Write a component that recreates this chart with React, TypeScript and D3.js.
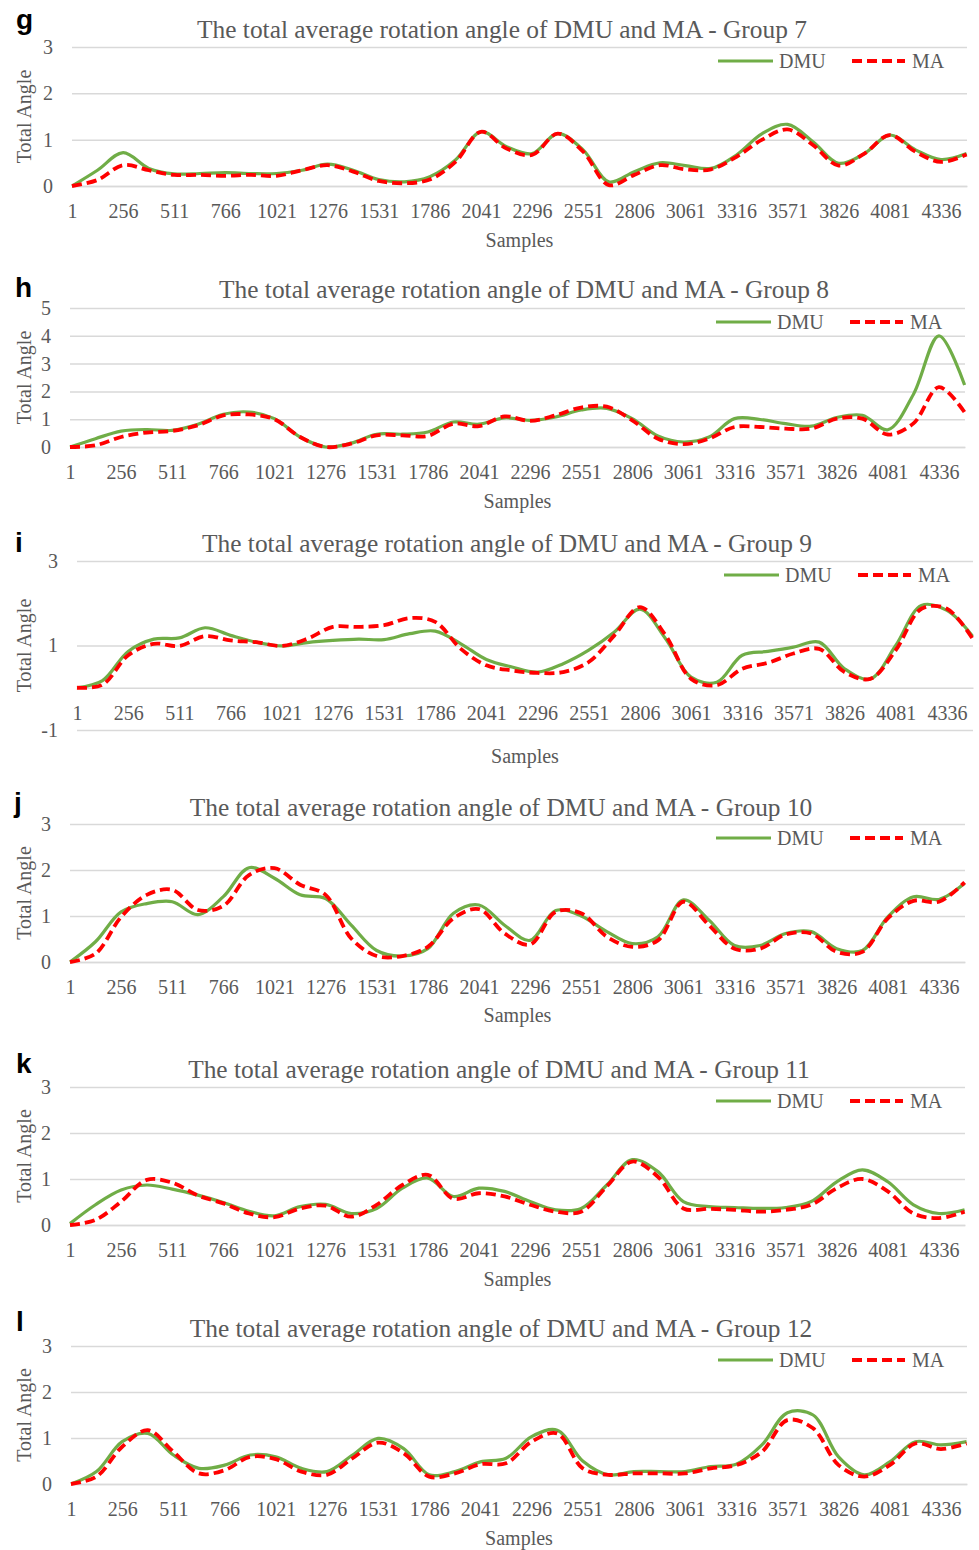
import { useEffect, useRef } from 'react'
import * as d3 from 'd3'

// sample index of every reading, and the category labels Excel printed
const samples = [1, 128, 256, 384, 511, 639, 766, 894, 1021, 1149, 1276, 1404, 1531, 1659, 1786, 1914, 2041, 2169, 2296, 2424, 2551, 2679, 2806, 2934, 3061, 3189, 3316, 3444, 3571, 3699, 3826, 3954, 4081, 4209, 4336, 4464]
const tickLabels = [1, 256, 511, 766, 1021, 1276, 1531, 1786, 2041, 2296, 2551, 2806, 3061, 3316, 3571, 3826, 4081, 4336]

const groups = [7, 8, 9, 10, 11, 12]
const panelLetters = ['g', 'h', 'i', 'j', 'k', 'l']
const seriesNames = ['DMU', 'MA']

const g7Dmu = [0, 0.34, 0.72, 0.38, 0.26, 0.27, 0.29, 0.27, 0.27, 0.34, 0.47, 0.34, 0.14, 0.09, 0.2, 0.56, 1.17, 0.85, 0.7, 1.13, 0.78, 0.09, 0.31, 0.5, 0.44, 0.38, 0.67, 1.13, 1.33, 0.95, 0.49, 0.7, 1.1, 0.78, 0.57, 0.7]
const g7Ma = [0, 0.13, 0.45, 0.34, 0.24, 0.24, 0.22, 0.24, 0.22, 0.34, 0.45, 0.31, 0.11, 0.06, 0.14, 0.52, 1.17, 0.81, 0.67, 1.13, 0.74, 0.02, 0.24, 0.45, 0.36, 0.36, 0.63, 1.0, 1.22, 0.88, 0.44, 0.7, 1.1, 0.74, 0.52, 0.68]

const g8Dmu = [0, 0.3, 0.57, 0.63, 0.6, 0.82, 1.18, 1.26, 1.02, 0.36, 0, 0.14, 0.46, 0.46, 0.54, 0.9, 0.82, 1.05, 0.96, 1.08, 1.33, 1.39, 1.02, 0.4, 0.18, 0.36, 1.02, 0.99, 0.84, 0.75, 1.06, 1.14, 0.62, 1.9, 4.0, 2.23]
const g8Ma = [0, 0.06, 0.36, 0.52, 0.58, 0.78, 1.14, 1.17, 1.0, 0.36, 0, 0.12, 0.42, 0.42, 0.4, 0.84, 0.75, 1.1, 0.94, 1.14, 1.42, 1.45, 0.96, 0.3, 0.1, 0.3, 0.72, 0.72, 0.66, 0.66, 1.02, 1.02, 0.45, 0.85, 2.15, 1.25]

const g9Dmu = [0, 0.17, 0.86, 1.15, 1.18, 1.42, 1.24, 1.08, 0.99, 1.07, 1.12, 1.15, 1.14, 1.28, 1.34, 1.04, 0.67, 0.49, 0.37, 0.57, 0.89, 1.32, 1.86, 1.16, 0.25, 0.13, 0.77, 0.86, 0.96, 1.08, 0.45, 0.21, 1.0, 1.95, 1.83, 1.22]
const g9Ma = [0, 0.07, 0.77, 1.04, 0.99, 1.22, 1.12, 1.08, 0.99, 1.16, 1.44, 1.44, 1.48, 1.65, 1.56, 0.92, 0.53, 0.41, 0.35, 0.37, 0.61, 1.24, 1.91, 1.24, 0.21, 0.06, 0.45, 0.59, 0.81, 0.92, 0.37, 0.21, 0.89, 1.87, 1.87, 1.16]

const g10Dmu = [0, 0.44, 1.09, 1.27, 1.31, 1.03, 1.42, 2.05, 1.82, 1.46, 1.38, 0.8, 0.25, 0.13, 0.29, 1.06, 1.24, 0.8, 0.47, 1.12, 1.0, 0.66, 0.4, 0.55, 1.35, 0.91, 0.36, 0.36, 0.62, 0.66, 0.29, 0.25, 0.98, 1.42, 1.36, 1.71]
const g10Ma = [0, 0.18, 0.98, 1.46, 1.57, 1.13, 1.22, 1.89, 2.04, 1.68, 1.46, 0.51, 0.13, 0.13, 0.33, 0.95, 1.15, 0.62, 0.38, 1.09, 1.06, 0.55, 0.33, 0.47, 1.31, 0.8, 0.29, 0.29, 0.6, 0.62, 0.22, 0.22, 0.95, 1.33, 1.31, 1.73]

const g11Dmu = [0.03, 0.44, 0.76, 0.87, 0.78, 0.65, 0.49, 0.3, 0.2, 0.4, 0.45, 0.25, 0.36, 0.8, 1.02, 0.62, 0.8, 0.73, 0.51, 0.33, 0.36, 0.87, 1.42, 1.16, 0.51, 0.4, 0.38, 0.36, 0.38, 0.51, 0.94, 1.2, 0.94, 0.44, 0.25, 0.33]
const g11Ma = [0, 0.11, 0.51, 0.98, 0.92, 0.64, 0.47, 0.25, 0.17, 0.36, 0.42, 0.18, 0.44, 0.87, 1.09, 0.57, 0.69, 0.62, 0.44, 0.29, 0.29, 0.84, 1.38, 1.05, 0.36, 0.35, 0.33, 0.29, 0.33, 0.44, 0.8, 1.0, 0.73, 0.25, 0.15, 0.29]

const g12Dmu = [0, 0.27, 0.92, 1.1, 0.63, 0.34, 0.41, 0.63, 0.59, 0.34, 0.27, 0.63, 0.99, 0.77, 0.2, 0.27, 0.48, 0.56, 1.03, 1.17, 0.5, 0.2, 0.27, 0.27, 0.27, 0.38, 0.43, 0.85, 1.55, 1.5, 0.59, 0.2, 0.48, 0.92, 0.85, 0.92]
const g12Ma = [0, 0.16, 0.81, 1.17, 0.7, 0.23, 0.3, 0.59, 0.54, 0.27, 0.2, 0.56, 0.9, 0.67, 0.16, 0.23, 0.43, 0.45, 0.92, 1.1, 0.34, 0.2, 0.23, 0.23, 0.23, 0.34, 0.41, 0.7, 1.39, 1.21, 0.41, 0.16, 0.41, 0.88, 0.76, 0.88]

const dmuSeries = [g7Dmu, g8Dmu, g9Dmu, g10Dmu, g11Dmu, g12Dmu]
const maSeries = [g7Ma, g8Ma, g9Ma, g10Ma, g11Ma, g12Ma]

const yDomains = [[0, 3], [0, 5], [-1, 3], [0, 3], [0, 3], [0, 3]]
const yTickValues = [[0, 1, 2, 3], [0, 1, 2, 3, 4, 5], [-1, 1, 3], [0, 1, 2, 3], [0, 1, 2, 3], [0, 1, 2, 3]]

// page layout of each panel (pixels)
const layouts = [
  { top: 47, bottom: 186, left: 72, right: 967, titleX: 502, titleY: 38, letterX: 16, letterY: 29, samplesY: 247 },
  { top: 308, bottom: 447, left: 70, right: 965, titleX: 524, titleY: 298, letterX: 15, letterY: 297, samplesY: 508 },
  { top: 561, bottom: 730, left: 77, right: 973, titleX: 507, titleY: 552, letterX: 15, letterY: 552, samplesY: 763 },
  { top: 824, bottom: 962, left: 70, right: 965, titleX: 501, titleY: 816, letterX: 14, letterY: 812, samplesY: 1022 },
  { top: 1087, bottom: 1225, left: 70, right: 965, titleX: 499, titleY: 1078, letterX: 16, letterY: 1073, samplesY: 1286 },
  { top: 1346, bottom: 1484, left: 71, right: 967, titleX: 501, titleY: 1337, letterX: 16, letterY: 1331, samplesY: 1545 },
]

const serif = '"Liberation Serif", "Times New Roman", serif'
const textColor = '#595959'
const gridColor = '#d9d9d9'
const green = '#70ad47'
const red = '#ff0000'

export default function App() {
  const svgRef = useRef<SVGSVGElement>(null)

  useEffect(() => {
    if (!svgRef.current) return
    const width = 979
    const height = 1550

    d3.select(svgRef.current).selectAll('*').remove()

    const svg = d3.select(svgRef.current)
      .attr('width', width)
      .attr('height', height)
      .attr('viewBox', `0 0 ${width} ${height}`)

    svg.append('rect').attr('width', width).attr('height', height).attr('fill', '#fff')

    layouts.forEach((lay, i) => {
      const x = d3.scaleLinear().domain([1, 4466]).range([lay.left, lay.right])
      const y = d3.scaleLinear().domain(yDomains[i]).range([lay.bottom, lay.top])
      const panel = svg.append('g')

      // gridlines + y tick labels (plain hyphen for negatives, like Excel)
      const yAxis = panel.append('g')
        .attr('transform', `translate(${lay.left},0)`)
        .call(d3.axisLeft(y).tickValues(yTickValues[i]).tickSize(-(lay.right - lay.left)).tickPadding(19).tickFormat(d => String(d)))
      yAxis.select('.domain').remove()
      yAxis.selectAll('line').attr('stroke', gridColor).attr('stroke-width', 1.5)
      yAxis.selectAll('text')
        .attr('fill', textColor)
        .attr('font-family', serif)
        .attr('font-size', 20)

      // category axis at 0
      const xAxis = panel.append('g')
        .attr('transform', `translate(0,${y(0)})`)
        .call(d3.axisBottom(x).tickValues(tickLabels).tickSize(0).tickPadding(18).tickFormat(d => String(d)))
      xAxis.select('.domain').attr('stroke', gridColor).attr('stroke-width', 1.5)
      xAxis.selectAll('text')
        .attr('fill', textColor)
        .attr('font-family', serif)
        .attr('font-size', 20)

      // lines
      const line = d3.line<number>()
        .x((_, j) => x(samples[j]))
        .y(d => y(d))
        .curve(d3.curveCatmullRom.alpha(0.5))

      panel.append('path')
        .datum(dmuSeries[i])
        .attr('d', line)
        .attr('fill', 'none')
        .attr('stroke', green)
        .attr('stroke-width', 3.2)

      panel.append('path')
        .datum(maSeries[i])
        .attr('d', line)
        .attr('fill', 'none')
        .attr('stroke', red)
        .attr('stroke-width', 3.8)
        .attr('stroke-dasharray', '10 5')

      // titles
      panel.append('text')
        .attr('x', lay.titleX)
        .attr('y', lay.titleY)
        .attr('text-anchor', 'middle')
        .attr('font-family', serif)
        .attr('font-size', 25.4)
        .attr('fill', textColor)
        .text(`The total average rotation angle of DMU and MA - Group ${groups[i]}`)

      panel.append('text')
        .attr('x', lay.letterX)
        .attr('y', lay.letterY)
        .attr('font-family', '"Liberation Sans", Arial, sans-serif')
        .attr('font-weight', 'bold')
        .attr('font-size', 28)
        .attr('fill', '#000')
        .text(panelLetters[i])

      panel.append('text')
        .attr('x', (lay.left + lay.right) / 2)
        .attr('y', lay.samplesY)
        .attr('text-anchor', 'middle')
        .attr('font-family', serif)
        .attr('font-size', 20)
        .attr('fill', textColor)
        .text('Samples')

      panel.append('text')
        .attr('transform', `translate(31,${(lay.top + lay.bottom) / 2}) rotate(-90)`)
        .attr('text-anchor', 'middle')
        .attr('font-family', serif)
        .attr('font-size', 20)
        .attr('fill', textColor)
        .text('Total Angle')

      // legend
      const ly = lay.top + 14
      const legend = panel.append('g').attr('transform', `translate(${lay.right},${ly})`)
      const items = [
        { name: seriesNames[0], x0: -249, x1: -194, tx: -188, color: green, w: 3.2, dash: null },
        { name: seriesNames[1], x0: -115, x1: -62, tx: -55, color: red, w: 3.8, dash: '10 5' },
      ]
      items.forEach(it => {
        legend.append('line')
          .attr('x1', it.x0).attr('x2', it.x1)
          .attr('stroke', it.color)
          .attr('stroke-width', it.w)
          .attr('stroke-dasharray', it.dash)
        legend.append('text')
          .attr('x', it.tx)
          .attr('dy', '0.35em')
          .attr('font-family', serif)
          .attr('font-size', 20)
          .attr('fill', textColor)
          .text(it.name)
      })
    })
  }, [])

  return (
    <svg ref={svgRef} style={{ position: 'absolute', left: 0, top: 0, display: 'block' }}></svg>
  )
}
